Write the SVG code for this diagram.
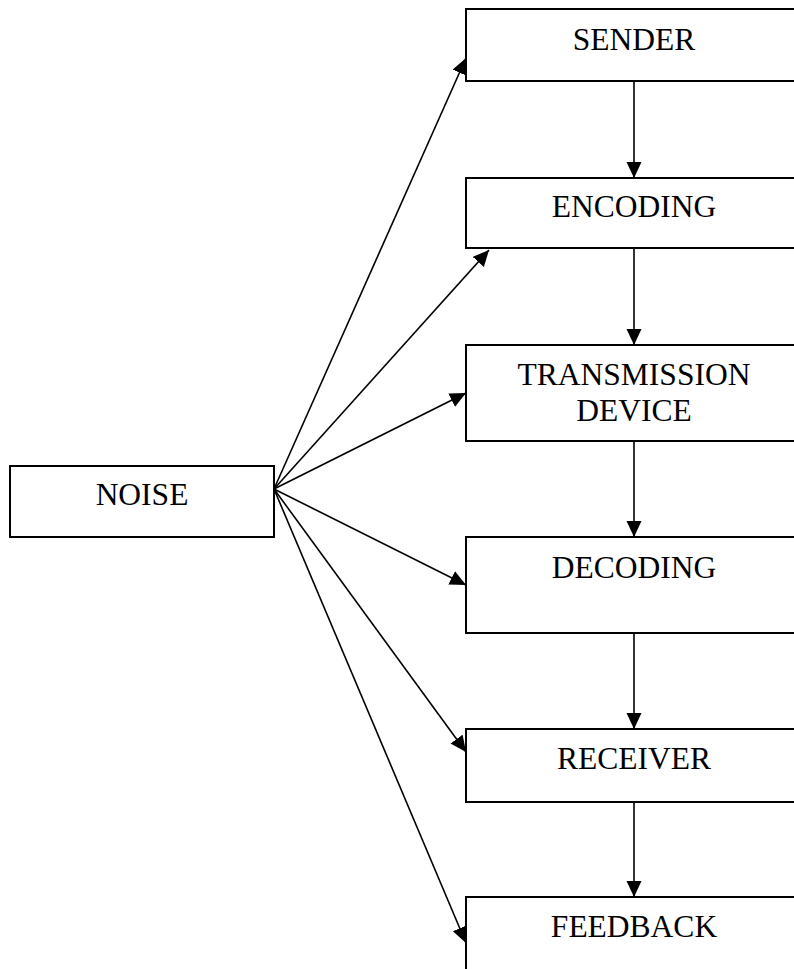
<svg xmlns="http://www.w3.org/2000/svg" width="794" height="969" viewBox="0 0 794 969">
<style>
.box{fill:#fff;stroke:#000;stroke-width:2}
.lbl{font-family:"Liberation Serif","Times New Roman",serif;font-size:31.5px;fill:#000;text-anchor:middle}
.con{stroke:#000;stroke-width:1.6;fill:none}
</style>
<defs>
<marker id="ah" markerUnits="userSpaceOnUse" markerWidth="18" markerHeight="16" refX="16" refY="7.5" orient="auto">
<path d="M0,0 L16,7.5 L0,15 Z" fill="#000"/>
</marker>
</defs>
<rect width="794" height="969" fill="#fff"/>
<g id="connectors">
<line class="con" x1="634" y1="81" x2="634" y2="178" marker-end="url(#ah)"/>
<line class="con" x1="634" y1="248" x2="634" y2="345" marker-end="url(#ah)"/>
<line class="con" x1="634" y1="441" x2="634" y2="537" marker-end="url(#ah)"/>
<line class="con" x1="634" y1="633" x2="634" y2="729" marker-end="url(#ah)"/>
<line class="con" x1="634" y1="802" x2="634" y2="897" marker-end="url(#ah)"/>
<line class="con" x1="274" y1="489" x2="466" y2="58" marker-end="url(#ah)"/>
<line class="con" x1="274" y1="489" x2="489" y2="250" marker-end="url(#ah)"/>
<line class="con" x1="274" y1="489" x2="466" y2="393" marker-end="url(#ah)"/>
<line class="con" x1="274" y1="489" x2="466" y2="585" marker-end="url(#ah)"/>
<line class="con" x1="274" y1="489" x2="466" y2="752" marker-end="url(#ah)"/>
<line class="con" x1="274" y1="489" x2="466" y2="943" marker-end="url(#ah)"/>
</g>
<g id="noise"><rect class="box" x="10" y="466" width="264" height="71"/><text class="lbl" x="142" y="505">NOISE</text></g>
<g id="sender"><rect class="box" x="466" y="9" width="340" height="72"/><text class="lbl" x="634" y="50">SENDER</text></g>
<g id="encoding"><rect class="box" x="466" y="178" width="340" height="70"/><text class="lbl" x="634" y="217">ENCODING</text></g>
<g id="transmission"><rect class="box" x="466" y="345" width="340" height="96"/><text class="lbl" x="634" y="385">TRANSMISSION</text><text class="lbl" x="634" y="421">DEVICE</text></g>
<g id="decoding"><rect class="box" x="466" y="537" width="340" height="96"/><text class="lbl" x="634" y="578">DECODING</text></g>
<g id="receiver"><rect class="box" x="466" y="729" width="340" height="73"/><text class="lbl" x="634" y="769">RECEIVER</text></g>
<g id="feedback"><rect class="box" x="466" y="897" width="340" height="100"/><text class="lbl" x="634" y="937">FEEDBACK</text></g>
</svg>
